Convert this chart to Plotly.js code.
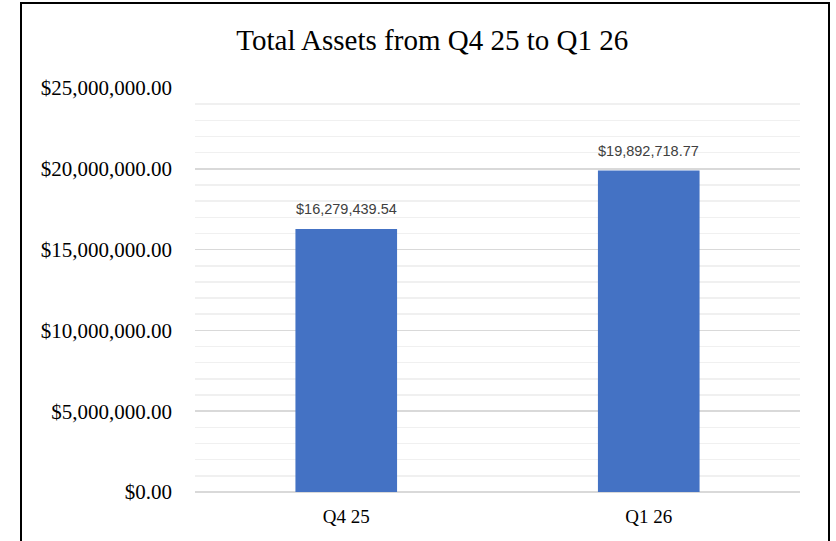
<!DOCTYPE html>
<html>
<head>
<meta charset="utf-8">
<script src="https://cdn.plot.ly/plotly-3.0.1.min.js"></script>
<style>
html,body{margin:0;padding:0;background:#fff;overflow:hidden;}
#chart{width:836px;height:541px;position:absolute;left:0;top:0;}
#frame{position:absolute;left:20px;top:2px;width:806px;height:600px;border:2px solid #000;pointer-events:none;}
</style>
</head>
<body>
<div id="chart"></div>
<div id="frame"></div>
<script>
var categories = ["Q4 25", "Q1 26"];
var totalAssets = [16279439.54, 19892718.77];
var valueLabels = ["$16,279,439.54", "$19,892,718.77"];
var chartTitle = "Total Assets from Q4 25 to Q1 26";

var serif = "Liberation Serif, Times New Roman, serif";
var sans = "Liberation Sans, Arial, sans-serif";

var trace = {
  type: "bar",
  x: categories,
  y: totalAssets,
  marker: {color: "#4472c4"},
  hoverinfo: "none"
};

var annotations = categories.map(function(c, i){
  return {
    x: c, y: totalAssets[i], xref: "x", yref: "y",
    text: valueLabels[i], showarrow: false,
    yanchor: "bottom", yshift: 10,
    font: {family: sans, size: 14.5, color: "#404040"}
  };
});

var layout = {
  width: 836, height: 541,
  margin: {l: 195, r: 36, t: 88, b: 49},
  paper_bgcolor: "#fff", plot_bgcolor: "#fff",
  showlegend: false,
  bargap: 0.664,
  title: {text: chartTitle, font: {family: serif, size: 29, color: "#000"}, x: 0.517, xanchor: "center", y: 0.927, yanchor: "middle"},
  xaxis: {
    type: "category",
    range: [-0.5, 1.5],
    showgrid: false, zeroline: false, showline: false,
    ticks: "",
    ticklabelstandoff: 11,
    tickfont: {family: serif, size: 19, color: "#000"}
  },
  yaxis: {
    range: [0, 25000000],
    dtick: 5000000,
    tickprefix: "$",
    tickformat: ",.2f",
    showgrid: true, gridcolor: "#d9d9d9", gridwidth: 1.5,
    zeroline: true, zerolinecolor: "#d9d9d9", zerolinewidth: 1.5,
    showline: false, ticks: "",
    ticklabelstandoff: 22,
    tickfont: {family: serif, size: 21, color: "#000"},
    minor: {dtick: 1000000, showgrid: true, gridcolor: "#f0f0f0", gridwidth: 1.5}
  },
  annotations: annotations
};

Plotly.newPlot("chart", [trace], layout, {staticPlot: true, displayModeBar: false});
</script>
</body>
</html>
